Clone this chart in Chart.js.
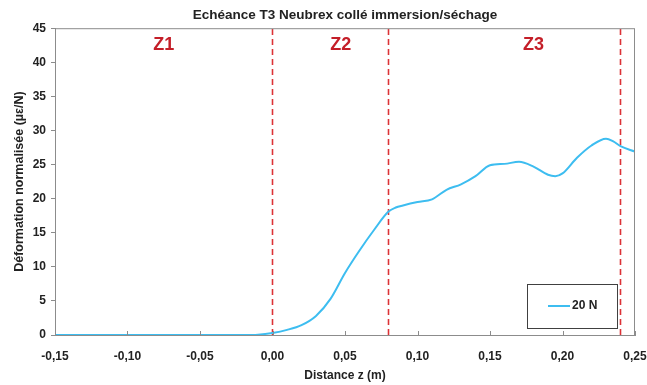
<!DOCTYPE html>
<html>
<head>
<meta charset="utf-8">
<script src="https://cdn.jsdelivr.net/npm/chart.js@4.4.0/dist/chart.umd.min.js"></script>
<style>
  html, body { margin: 0; padding: 0; background: #fff; }
  #wrap { width: 647px; height: 385px; }
</style>
</head>
<body>
<div id="wrap"><canvas id="c" width="647" height="385"></canvas></div>
<script>
// values
const distances = [-0.15, -0.10, -0.05, -0.02, -0.01, 0.00, 0.01, 0.02, 0.03, 0.04, 0.05, 0.06, 0.07, 0.08,
  0.085, 0.09, 0.10, 0.11, 0.12, 0.13, 0.14, 0.15, 0.16, 0.17, 0.18, 0.19, 0.195, 0.20, 0.21, 0.22, 0.23, 0.235, 0.24, 0.25];
const strain20N = [0, 0, 0, 0, 0.05, 0.3, 0.75, 1.45, 2.8, 5.3, 9.1, 12.4, 15.4, 18.1,
  18.7, 19.0, 19.5, 19.9, 21.3, 22.1, 23.3, 24.9, 25.1, 25.4, 24.7, 23.5, 23.3, 23.7, 26.0, 27.8, 28.8, 28.4, 27.7, 26.9];
const zoneBounds = [0.00, 0.08, 0.24];
const zoneLabels = ['Z1', 'Z2', 'Z3'];
const zoneLabelX = [-0.075, 0.047, 0.18];
const zoneLabelY = 42.5;

const red = '#dc3236';
const blue = '#3dbdf0';
const font = '"Liberation Sans", sans-serif';

const boundSets = zoneBounds.map(b => ({
  label: '',
  data: [{ x: b, y: 0 }, { x: b, y: 45 }],
  borderColor: red,
  borderWidth: 1.6,
  borderDash: [6, 4],
  pointRadius: 0,
  fill: false
}));

const extras = {
  id: 'extras',
  afterDatasetsDraw(chart) {
    const { ctx, chartArea: a, scales: { x, y } } = chart;
    ctx.save();
    // frame
    ctx.strokeStyle = '#8c8c8c';
    ctx.lineWidth = 1;
    ctx.strokeRect(a.left + 0.5, a.top + 0.5, a.right - a.left - 1, a.bottom - a.top);
    // inward x ticks
    x.ticks.forEach(t => {
      const px = Math.round(x.getPixelForValue(t.value)) + 0.5;
      ctx.beginPath();
      ctx.moveTo(px, a.bottom);
      ctx.lineTo(px, a.bottom - 4);
      ctx.stroke();
    });
    // zone labels
    ctx.fillStyle = '#c41e28';
    ctx.font = 'bold 18px "Liberation Sans Narrow", "Liberation Sans", sans-serif';
    ctx.textAlign = 'center';
    ctx.textBaseline = 'middle';
    zoneLabels.forEach((l, i) => ctx.fillText(l, x.getPixelForValue(zoneLabelX[i]), y.getPixelForValue(zoneLabelY)));
    // legend box
    const bx = 527, by = 284, bw = 90, bh = 44;
    ctx.fillStyle = '#fff';
    ctx.fillRect(bx, by, bw, bh);
    ctx.strokeStyle = '#404040';
    ctx.strokeRect(bx + 0.5, by + 0.5, bw, bh);
    ctx.strokeStyle = blue;
    ctx.lineWidth = 2;
    ctx.beginPath();
    ctx.moveTo(bx + 21, by + 22);
    ctx.lineTo(bx + 43, by + 22);
    ctx.stroke();
    ctx.fillStyle = '#222';
    ctx.font = 'bold 12px ' + font;
    ctx.textAlign = 'left';
    ctx.fillText(chart.data.datasets[0].label, bx + 45, by + 22);
    ctx.restore();
  }
};

new Chart(document.getElementById('c'), {
  type: 'line',
  data: {
    datasets: [{
      label: '20 N',
      data: distances.map((d, i) => ({ x: d, y: strain20N[i] })),
      borderColor: blue,
      borderWidth: 2,
      pointRadius: 0,
      cubicInterpolationMode: 'monotone',
      fill: false
    }, ...boundSets]
  },
  options: {
    responsive: false,
    animation: false,
    layout: { padding: { right: 0, left: 12, bottom: 0 } },
    plugins: {
      legend: { display: false },
      tooltip: { enabled: false },
      title: {
        display: true,
        fullSize: false,
        text: 'Echéance T3 Neubrex collé immersion/séchage',
        color: '#222',
        font: { family: font, size: 13.5, weight: 'bold' },
        padding: { top: 7, bottom: 5 }
      }
    },
    scales: {
      x: {
        type: 'linear',
        min: -0.15, max: 0.25,
        grid: { display: false },
        border: { color: '#8c8c8c' },
        ticks: {
          stepSize: 0.05,
          color: '#222',
          padding: 6,
          font: { family: font, size: 12, weight: 'bold' },
          callback: v => v.toFixed(2).replace('.', ',')
        },
        title: {
          display: true, text: 'Distance z (m)', color: '#222', padding: { top: 4, bottom: 2 },
          font: { family: font, size: 12, weight: 'bold' }
        },
        afterFit: s => { s.height = 50; s.paddingRight = 12; s.paddingLeft = 0; }
      },
      y: {
        min: 0, max: 45,
        grid: { drawOnChartArea: false, tickLength: 4, color: '#8c8c8c' },
        border: { color: '#8c8c8c' },
        ticks: {
          stepSize: 5,
          color: '#222',
          padding: 5,
          font: { family: font, size: 12, weight: 'bold' }
        },
        title: {
          display: true, text: 'Déformation normalisée (µε/N)', color: '#222', padding: { top: 0, bottom: 2 },
          font: { family: font, size: 12.5, weight: 'bold' }
        },
        afterFit: s => { s.width = 43; }
      }
    }
  },
  plugins: [extras]
});
</script>
</body>
</html>
